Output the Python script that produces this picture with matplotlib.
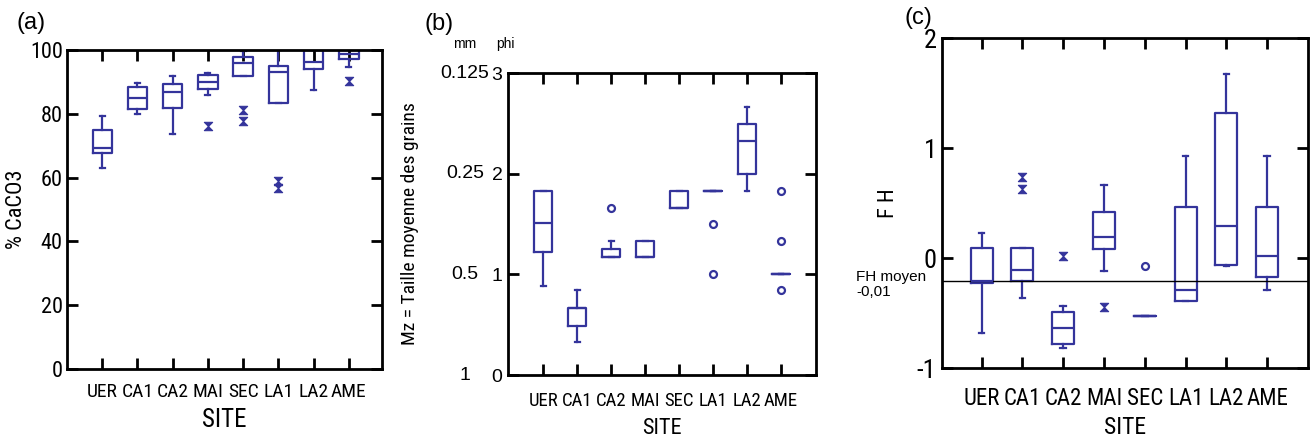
import matplotlib
matplotlib.use("Agg")
import matplotlib.pyplot as plt
import matplotlib.font_manager as fm
from matplotlib.path import Path
from matplotlib.transforms import blended_transform_factory

# ---------------- data ----------------
sites = ['UER', 'CA1', 'CA2', 'MAI', 'SEC', 'LA1', 'LA2', 'AME']

# (a) % CaCO3
a_whislo = [63.1, 79.9, 73.6, 85.9, 91.8, 83.5, 87.5, 94.8]
a_q1 = [67.6, 81.4, 81.7, 87.7, 91.8, 83.5, 94.0, 97.2]
a_med = [69.2, 85.0, 86.9, 90.1, 95.8, 93.0, 96.3, 98.9]
a_q3 = [74.9, 88.3, 89.2, 92.2, 97.7, 95.0, 100.0, 100.0]
a_whishi = [79.3, 89.6, 91.9, 92.7, 99.8, 100.0, 100.0, 100.0]
a_out = [[], [], [], [76.3], [81.2, 77.6], [58.8, 56.6], [], [90.4]]
a_far = [[], [], [], [], [], [], [], []]

# (b) Mz (phi)
b_whislo = [0.88, 0.33, 1.17, 1.17, 1.66, 1.83, 1.83, 1.0]
b_q1 = [1.22, 0.49, 1.17, 1.17, 1.66, 1.83, 2.0, 1.0]
b_med = [1.51, 0.67, 1.17, 1.17, 1.66, 1.83, 2.32, 1.0]
b_q3 = [1.83, 0.67, 1.25, 1.33, 1.83, 1.83, 2.49, 1.0]
b_whishi = [1.83, 0.84, 1.33, 1.33, 1.83, 1.83, 2.66, 1.0]
b_out = [[], [], [], [], [], [], [], []]
b_far = [[], [], [1.66], [], [], [1.5, 1.0], [], [1.83, 1.33, 0.84]]
b_phi_ticks = [0, 1, 2, 3]
b_mm_labels = ['1', '0.5', '0.25', '0.125']

# (c) FH
c_whislo = [-0.68, -0.365, -0.82, -0.115, -0.526, -0.395, -0.076, -0.29]
c_q1 = [-0.228, -0.207, -0.781, 0.082, -0.526, -0.395, -0.067, -0.176]
c_med = [-0.213, -0.112, -0.638, 0.191, -0.526, -0.289, 0.295, 0.015]
c_q3 = [0.091, 0.091, -0.492, 0.422, -0.526, 0.465, 1.322, 0.465]
c_whishi = [0.228, 0.091, -0.435, 0.663, -0.526, 0.927, 1.672, 0.927]
c_out = [[], [0.74, 0.63], [0.015], [-0.447], [], [], [], []]
c_far = [[], [], [], [], [-0.076], [], [], []]
fh_mean = -0.21

# ---------------- style ----------------
def pick(names):
    for n in names:
        try:
            fm.findfont(fm.FontProperties(family=n), fallback_to_default=False)
            return n
        except Exception:
            pass
    return 'DejaVu Sans'

NARROW = pick(['Liberation Sans Narrow', 'Arial Narrow', 'Roboto Condensed',
               'Archivo Narrow', 'Asap Condensed', 'Liberation Sans'])
REG = pick(['Liberation Sans', 'Arial'])
plt.rcParams['font.family'] = [NARROW, 'DejaVu Sans']

BLUE = '#34349b'
W, H = 1311, 443
fig = plt.figure(figsize=(W / 100, H / 100), dpi=100)

hour = Path([(-1, 1), (1, 1), (-1, -1), (1, -1), (-1, 1)],
            [Path.MOVETO, Path.LINETO, Path.LINETO, Path.LINETO, Path.CLOSEPOLY])


def rect(l, r, t, b):
    return [l / W, 1 - b / H, (r - l) / W, (b - t) / H]


def panel(rc, xlim, ylim, whislo, q1, med, q3, whishi, out, far,
          width, xtick_fs, xpad):
    ax = fig.add_axes(rect(*rc))
    pos = list(range(1, len(sites) + 1))
    stats = []
    for i in range(len(sites)):
        stats.append(dict(whislo=whislo[i], q1=q1[i], med=med[i],
                          q3=q3[i], whishi=whishi[i], fliers=[]))
    lp = dict(color=BLUE, linewidth=1.6)
    ax.bxp(stats, positions=pos, widths=width, capwidths=0.14,
           showfliers=False, boxprops=lp, whiskerprops=lp, capprops=lp,
           medianprops=lp, manage_ticks=False)
    for i, p in enumerate(pos):
        if out[i]:
            ax.plot([p] * len(out[i]), out[i], linestyle='none', marker=hour,
                    markersize=6, color=BLUE, markeredgewidth=0.8, clip_on=False)
        if far[i]:
            ax.plot([p] * len(far[i]), far[i], linestyle='none', marker='o',
                    markersize=5, markerfacecolor='white', markeredgecolor=BLUE,
                    markeredgewidth=1.6, clip_on=False)
    ax.set_xlim(*xlim)
    ax.set_ylim(*ylim)
    ax.set_xticks(pos)
    ax.set_xticklabels(sites, fontsize=xtick_fs)
    for s in ax.spines.values():
        s.set_linewidth(2.0)
    ax.tick_params(axis='both', direction='in', length=8, width=2,
                   top=True, right=True, bottom=True, left=True)
    ax.tick_params(axis='x', pad=xpad)
    return ax


# ---- (a)
axa = panel((67, 382, 50, 369), (0.0, 8.94), (0, 100), a_whislo, a_q1, a_med,
            a_q3, a_whishi, a_out, a_far, 0.55, 14, 10)
axa.set_yticks([0, 20, 40, 60, 80, 100])
axa.set_yticklabels(['0', '20', '40', '60', '80', '100'], fontsize=16)
axa.tick_params(axis='y', pad=3)
axa.set_ylabel('% CaCO3', fontsize=16, labelpad=2)
axa.set_xlabel('SITE', fontsize=18, labelpad=5)

# ---- (b)
axb = panel((508, 816, 73, 375), (-0.04, 9.03), (0, 3), b_whislo, b_q1, b_med,
            b_q3, b_whishi, b_out, b_far, 0.53, 13.5, 12)
axb.set_yticks(b_phi_ticks)
axb.set_yticklabels([str(v) for v in b_phi_ticks], fontsize=14, family=REG)
axb.tick_params(axis='y', pad=4)
tb = blended_transform_factory(fig.transFigure, axb.transData)
for v, lab in zip(b_phi_ticks, b_mm_labels):
    fig.text(465 / W, v, lab, transform=tb, ha='center', va='center',
             fontsize=14, family=REG)
axb.set_ylabel('Mz = Taille moyenne des grains', fontsize=14, labelpad=52)
axb.set_xlabel('SITE', fontsize=16, labelpad=6)
fig.text(465 / W, 1 - 44 / H, 'mm', fontsize=10, family=REG, ha='center', va='center')
fig.text(505 / W, 1 - 44 / H, 'phi', fontsize=10, family=REG, ha='center', va='center')

# ---- (c)
axc = panel((942, 1308, 38, 368), (0.03, 9.0), (-1, 2), c_whislo, c_q1, c_med,
            c_q3, c_whishi, c_out, c_far, 0.54, 16.5, 14)
axc.set_yticks([-1, 0, 1, 2])
axc.set_yticklabels(['-1', '0', '1', '2'], fontsize=19)
axc.tick_params(axis='y', pad=4)
axc.axhline(fh_mean, color='black', linewidth=1.0)
axc.set_ylabel('F H', fontsize=16, labelpad=13)
axc.set_xlabel('SITE', fontsize=17, labelpad=4)
tc = blended_transform_factory(fig.transFigure, axc.transData)
fig.text(856 / W, fh_mean + 0.005, 'FH moyen', transform=tc, ha='left',
         va='baseline', fontsize=11, family=REG)
fig.text(856 / W, fh_mean - 0.04, '-0,01', transform=tc, ha='left',
         va='top', fontsize=11, family=REG)

# panel letters
fig.text(16 / W, 1 - 23 / H, '(a)', fontsize=17, family=REG, va='center')
fig.text(425 / W, 1 - 24 / H, '(b)', fontsize=17, family=REG, va='center')
fig.text(904 / W, 1 - 18 / H, '(c)', fontsize=17, family=REG, va='center')

fig.savefig('out.png', dpi=100)
